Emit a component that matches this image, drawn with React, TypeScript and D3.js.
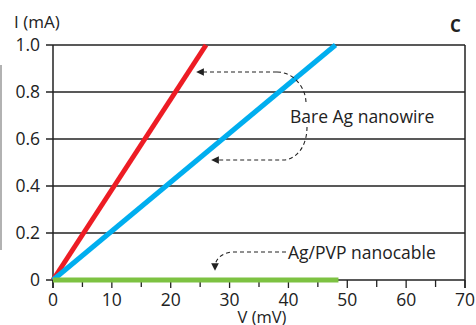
import React from "react";
import * as d3 from "d3";

const xTicks = [0, 10, 20, 30, 40, 50, 60, 70];
const xMinor = [5, 15, 25, 35, 45, 55, 65];
const yTicks = [0, 0.2, 0.4, 0.6, 0.8, 1.0];
const yTickLabels = ["0", "0.2", "0.4", "0.6", "0.8", "1.0"];

const redV = [0, 26];
const redI = [0, 1.0];
const blueV = [0, 48];
const blueI = [0, 1.0];
const greenV = [0, 48.5];
const greenI = [0, 0];

const W = 476, H = 325;
const FONT = "'Open Sans', 'DejaVu Sans', sans-serif";

export default function App() {
  const x = d3.scaleLinear().domain([0, 70]).range([53, 465]);
  const y = d3.scaleLinear().domain([0, 1]).range([280, 45]);
  const line = d3.line<[number, number]>().x(d => x(d[0])).y(d => y(d[1]));
  const pts = (vs: number[], is: number[]) => vs.map((v, i) => [v, is[i]] as [number, number]);
  const ink = "#222";

  return (
    <svg width={W} height={H} style={{ position: "absolute", left: 0, top: 0 }} fontFamily={FONT}>
      <defs>
        <marker id="ah" viewBox="0 0 10 10" refX="5" refY="5" markerWidth="7" markerHeight="7" orient="auto-start-reverse">
          <path d="M0,0 L10,5 L0,10 z" fill={ink} />
        </marker>
      </defs>
      <rect width={W} height={H} fill="#fff" />
      <line x1={1} x2={1} y1={65} y2={250} stroke="#999" strokeWidth={1.5} />
      {yTicks.map(t => (
        <line key={t} x1={x(0) - 7} x2={x(70)} y1={y(t)} y2={y(t)} stroke={ink} strokeWidth={1.3} />
      ))}
      <line x1={x(0)} x2={x(0)} y1={y(1)} y2={y(0) + 8} stroke={ink} strokeWidth={1.5} />
      <line x1={x(70)} x2={x(70)} y1={y(1)} y2={y(0) + 8} stroke={ink} strokeWidth={1.5} />
      {xTicks.map(t => (
        <line key={t} x1={x(t)} x2={x(t)} y1={y(0)} y2={y(0) + 8} stroke={ink} strokeWidth={1.3} />
      ))}
      {xMinor.map(t => (
        <line key={t} x1={x(t)} x2={x(t)} y1={y(0)} y2={y(0) + 7} stroke={ink} strokeWidth={1.3} />
      ))}
      {yTicks.map((t, i) => (
        <text key={t} x={x(0) - 13} y={y(t)} dy="0.36em" textAnchor="end" fontSize={17.5} fill={ink}>{yTickLabels[i]}</text>
      ))}
      {xTicks.map(t => (
        <text key={t} x={x(t)} y={y(0) + 26} textAnchor="middle" fontSize={17.5} fill={ink}>{t}</text>
      ))}
      <text x={14} y={28} fontSize={17} fill={ink}>I (mA)</text>
      <text x={262} y={323} textAnchor="middle" fontSize={16.5} fill={ink}>V (mV)</text>
      <text x={450} y={32} fontSize={17} fontWeight="bold" fill={ink}>C</text>
      <path d={line(pts(redV, redI)) || ""} stroke="#ed1c24" strokeWidth={5} fill="none" />
      <path d={line(pts(blueV, blueI)) || ""} stroke="#00aeef" strokeWidth={5} fill="none" />
      <path d={line(pts(greenV, greenI)) || ""} stroke="#7dc242" strokeWidth={5} fill="none" />
      <path d="M277,72 C292,72 305,85 306,102" stroke={ink} strokeWidth={1.1} strokeDasharray="4,3" fill="none" />
      <path d="M277,72 L200,72" stroke={ink} strokeWidth={1.1} strokeDasharray="4,3" fill="none" markerEnd="url(#ah)" />
      <path d="M307,127 C307,145 298,158 285,160 L215,160" stroke={ink} strokeWidth={1.1} strokeDasharray="4,3" fill="none" markerEnd="url(#ah)" />
      <path d="M286,252 L232,252 C222,253 215,259 215,267" stroke={ink} strokeWidth={1.1} strokeDasharray="4,3" fill="none" markerEnd="url(#ah)" />
      <text x={290} y={123} fontSize={17.5} fill={ink}>Bare Ag nanowire</text>
      <text x={288} y={259} fontSize={17.5} fill={ink}>Ag/PVP nanocable</text>
    </svg>
  );
}
